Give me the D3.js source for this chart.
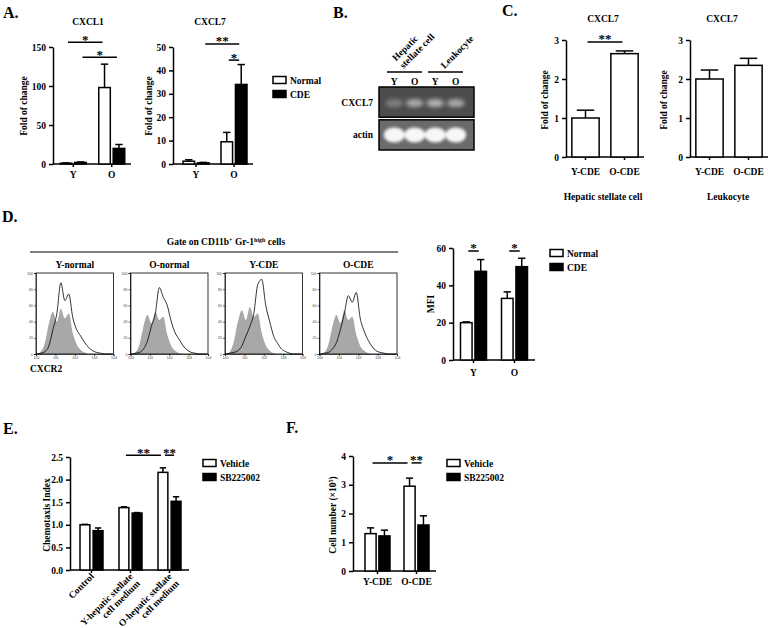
<!DOCTYPE html>
<meta charset="utf-8">
<style>
  body { margin: 0; background: #fff; }
  svg { font-family: "Liberation Serif", "Times New Roman", serif; font-weight: bold; }
  svg text { fill: #000; }
  .axis path, .axis line { stroke: #000; stroke-width: 1.5px; }
  .axis text { font-size: 9.5px; font-family: "Liberation Serif", serif; font-weight: bold; }
  .faxis path, .faxis line { stroke: #000; stroke-width: 0.6px; }
  .faxis text { font-size: 3.5px; fill: #444; font-weight: normal; }
</style>
<script src="https://d3js.org/d3.v7.min.js"></script>
<body>
<div id="fig"></div>
<script>

// ---- A. fold of change, young / old mice ----
var groupsYO = ["Y", "O"];
var seriesNC = ["Normal", "CDE"];
var cxcl1Normal = [1, 98], cxcl1NormalErr = [0.4, 30];
var cxcl1CDE = [2, 20], cxcl1CDEErr = [0.6, 5];
var cxcl7Normal = [1.2, 9.5], cxcl7NormalErr = [0.6, 4];
var cxcl7CDE = [0.5, 34], cxcl7CDEErr = [0.2, 8.5];
var ticksCxcl1 = [0, 50, 100, 150];
var ticksCxcl7 = [0, 10, 20, 30, 40, 50];

// ---- B. RT-PCR gel ----
var lanes = ["hsc-Y", "hsc-O", "leu-Y", "leu-O"];
var laneLabels = ["Y", "O", "Y", "O"];
var gelGroups = [["Hepatic", "stellate cell"], ["Leukocyte"]];
var gelRows = ["CXCL7", "actin"];
var cxcl7Band = [0.3, 0.55, 0.6, 0.55];
var actinBand = [1, 1, 1, 1];

// ---- C. CXCL7 in sorted cells ----
var groupsCDE = ["Y-CDE", "O-CDE"];
var hscCxcl7 = [1.0, 2.65], hscCxcl7Err = [0.2, 0.07];
var leuCxcl7 = [2.0, 2.35], leuCxcl7Err = [0.23, 0.18];
var ticksC = [0, 1, 2, 3];

// ---- D. CXCR2 flow histograms + MFI ----
var flowSamples = ["Y-normal", "O-normal", "Y-CDE", "O-CDE"];
var isotypeHist = [
  [0, 3, 14, 38, 52, 40, 56, 44, 50, 26, 12, 5, 2, 0, 0, 0, 0, 0, 0, 0],
  [0, 2, 12, 34, 48, 38, 52, 42, 46, 24, 10, 4, 1, 0, 0, 0, 0, 0, 0, 0],
  [0, 3, 16, 40, 54, 42, 58, 46, 50, 26, 11, 4, 1, 0, 0, 0, 0, 0, 0, 0],
  [0, 2, 12, 34, 48, 38, 54, 42, 46, 24, 10, 4, 1, 0, 0, 0, 0, 0, 0, 0]
];
var cxcr2Hist = [
  [0, 1, 3, 10, 30, 50, 88, 66, 74, 45, 30, 22, 14, 8, 4, 2, 1, 0, 0, 0],
  [0, 1, 2, 6, 16, 34, 50, 82, 70, 60, 40, 26, 18, 10, 5, 2, 1, 0, 0, 0],
  [0, 1, 2, 4, 10, 22, 34, 50, 86, 92, 60, 40, 22, 13, 6, 3, 1, 0, 0, 0],
  [0, 1, 2, 6, 14, 30, 50, 72, 64, 76, 44, 28, 17, 9, 4, 2, 1, 0, 0, 0]
];
var mfiNormal = [20, 33], mfiNormalErr = [0.4, 3.5];
var mfiCDE = [47.5, 50], mfiCDEErr = [6.3, 4.5];
var ticksMfi = [0, 20, 40, 60];

// ---- E. chemotaxis ----
var groupsE = ["Control", "Y-hepatic stellate cell medium", "O-hepatic stellate cell medium"];
var seriesVS = ["Vehicle", "SB225002"];
var chemoVehicle = [1.0, 1.38, 2.16], chemoVehicleErr = [0.01, 0.02, 0.1];
var chemoSB = [0.87, 1.26, 1.52], chemoSBErr = [0.06, 0.01, 0.1];
var ticksE = [0, 0.5, 1.0, 1.5, 2.0, 2.5];

// ---- F. cell number ----
var cellVehicle = [1.3, 2.95], cellVehicleErr = [0.2, 0.28];
var cellSB = [1.22, 1.6], cellSBErr = [0.2, 0.32];
var ticksF = [0, 1, 2, 3, 4];


var svg = d3.select("#fig").append("svg").attr("width", 768).attr("height", 628);
var defs = svg.append("defs");

function txt(x, y, s, size, anchor) {
  return svg.append("text").attr("x", x).attr("y", y)
    .attr("text-anchor", anchor || "middle").style("font-size", (size || 9.5) + "px").text(s);
}
function vtxt(x, y, s) {
  return svg.append("text").attr("transform", "translate(" + x + "," + y + ") rotate(-90)")
    .attr("text-anchor", "middle").style("font-size", "9.5px").text(s);
}

// grouped bar chart in the Prism style
function barPanel(o) {
  var g = svg.append("g");
  var y = d3.scaleLinear().domain([0, o.max]).range([o.bottom, o.top]);
  var x = d3.scaleBand().domain(o.groups).range(o.range)
    .paddingInner(o.padIn || 0).paddingOuter(o.padOut || 0);
  var w = o.inner || x.bandwidth();
  var xs = d3.scaleBand().domain(o.series)
    .range([(x.bandwidth() - w) / 2, (x.bandwidth() + w) / 2]).paddingInner(o.gap || 0);

  g.append("g").attr("class", "axis").attr("transform", "translate(" + o.axisX + ",0)")
    .call(d3.axisLeft(y).tickValues(o.ticks).tickSize(4).tickSizeOuter(0).tickPadding(3)
      .tickFormat(o.fmt || d3.format("d")));

  var xa = g.append("g").attr("class", "axis").attr("transform", "translate(0," + o.bottom + ")")
    .call(d3.axisBottom(x).tickSize(3).tickSizeOuter(0).tickPadding(o.xPad || 4));
  xa.select(".domain").attr("d", "M" + o.axisX + ",0H" + o.range[1]);

  o.values.forEach(function (vals, si) {
    var s = o.series[si];
    var cx = function (d, i) { return x(o.groups[i]) + xs(s) + xs.bandwidth() / 2; };
    g.append("g").selectAll("line").data(vals).join("line")
      .attr("x1", cx).attr("x2", cx)
      .attr("y1", function (d) { return y(d); })
      .attr("y2", function (d, i) { return y(d + o.errors[si][i]); })
      .attr("stroke", "#000").attr("stroke-width", 1.5);
    g.append("g").selectAll("line").data(vals).join("line")
      .attr("x1", function (d, i) { return cx(d, i) - xs.bandwidth() * 0.32; })
      .attr("x2", function (d, i) { return cx(d, i) + xs.bandwidth() * 0.32; })
      .attr("y1", function (d, i) { return y(d + o.errors[si][i]); })
      .attr("y2", function (d, i) { return y(d + o.errors[si][i]); })
      .attr("stroke", "#000").attr("stroke-width", 1.5);
    g.append("g").selectAll("rect").data(vals).join("rect")
      .attr("x", function (d, i) { return x(o.groups[i]) + xs(s); })
      .attr("y", function (d) { return y(d); })
      .attr("width", xs.bandwidth())
      .attr("height", function (d) { return y(0) - y(d); })
      .attr("fill", o.fills[si]).attr("stroke", "#000").attr("stroke-width", 1.5);
  });
  return { x: x, xs: xs, y: y, xa: xa };
}

// significance bar with stars
function sig(p, a, b, level, label) {
  var xa = p.x(a[0]) + p.xs(a[1]) + p.xs.bandwidth() / 2;
  var xb = p.x(b[0]) + p.xs(b[1]) + p.xs.bandwidth() / 2;
  var yy = p.y(level);
  svg.append("line").attr("x1", xa + 2).attr("x2", xb - 2).attr("y1", yy).attr("y2", yy)
    .attr("stroke", "#000").attr("stroke-width", 1.5);
  txt((xa + xb) / 2, yy + 1.5, label, 13);
}

function legend(x, y, names, fills) {
  names.forEach(function (n, i) {
    svg.append("rect").attr("x", x).attr("y", y + i * 14 - 3.5).attr("width", 13).attr("height", 7)
      .attr("fill", fills[i]).attr("stroke", "#000").attr("stroke-width", 1.5);
    txt(x + 17, y + i * 14 + 3.5, n, 9.5, "start");
  });
}

var nc = ["#fff", "#000"];

// ===== A =====
txt(3, 18, "A.", 16, "start");
txt(88, 25, "CXCL1");
var pA1 = barPanel({ groups: groupsYO, series: seriesNC, values: [cxcl1Normal, cxcl1CDE],
  errors: [cxcl1NormalErr, cxcl1CDEErr], fills: nc, max: 150, ticks: ticksCxcl1,
  axisX: 53, range: [54, 131], bottom: 164, top: 47, inner: 26, gap: 0.2 });
sig(pA1, ["Y", "Normal"], ["O", "Normal"], 156, "*");
sig(pA1, ["Y", "CDE"], ["O", "CDE"], 137, "*");
vtxt(27, 106, "Fold of change");

txt(210, 25, "CXCL7");
var pA2 = barPanel({ groups: groupsYO, series: seriesNC, values: [cxcl7Normal, cxcl7CDE],
  errors: [cxcl7NormalErr, cxcl7CDEErr], fills: nc, max: 50, ticks: ticksCxcl7,
  axisX: 173, range: [177, 253], bottom: 164, top: 47, inner: 26, gap: 0.2 });
sig(pA2, ["Y", "CDE"], ["O", "CDE"], 51.3, "**");
sig(pA2, ["O", "Normal"], ["O", "CDE"], 44.4, "*");
vtxt(152, 106, "Fold of change");
legend(273, 80, seriesNC, nc);

// ===== B =====
txt(333, 18, "B.", 16, "start");
var laneX = d3.scaleBand().domain(lanes).range([384, 466]);
var gelY = d3.scaleBand().domain(gelRows).range([87, 150]).paddingInner(0.08);
var glow = d3.scaleLinear().domain([0, 1]).range([0, 0.95]);
var bandData = [cxcl7Band, actinBand];

gelGroups.forEach(function (lines, gi) {
  var first = laneX(lanes[gi * 2]), last = laneX(lanes[gi * 2 + 1]) + laneX.bandwidth();
  var c = (first + last) / 2;
  svg.append("line").attr("x1", first + 3).attr("x2", last - 3).attr("y1", 72).attr("y2", 72)
    .attr("stroke", "#000").attr("stroke-width", 1.5);
  lines.forEach(function (s, li) {
    var off = (lines.length - 1 - li) * 7.4;
    svg.append("text").attr("transform", "translate(" + (c - 1 - off) + "," + (69 - off) + ") rotate(-45)")
      .style("font-size", "9.5px").text(s);
  });
});
svg.append("g").selectAll("text").data(laneLabels).join("text")
  .attr("x", function (d, i) { return laneX(lanes[i]) + laneX.bandwidth() / 2; })
  .attr("y", 85).attr("text-anchor", "middle").style("font-size", "9.5px").text(function (d) { return d; });

gelRows.forEach(function (row, r) {
  var y0 = gelY(row), h = gelY.bandwidth();
  defs.append("clipPath").attr("id", "gelclip" + r).append("rect")
    .attr("x", 379).attr("y", y0).attr("width", 95).attr("height", h);
  defs.append("filter").attr("id", "blur" + r).attr("x", "-50%").attr("y", "-50%")
    .attr("width", "200%").attr("height", "200%")
    .append("feGaussianBlur").attr("stdDeviation", r ? 1.6 : 2.2);
  svg.append("rect").attr("x", 379).attr("y", y0).attr("width", 95).attr("height", h)
    .attr("fill", r ? "#6a6a6a" : "#4c4c4c");
  svg.append("g").attr("clip-path", "url(#gelclip" + r + ")")
    .append("g").attr("filter", "url(#blur" + r + ")")
    .selectAll("ellipse").data(bandData[r]).join("ellipse")
    .attr("cx", function (d, i) { return laneX(lanes[i]) + laneX.bandwidth() / 2; })
    .attr("cy", y0 + h / 2 + (r ? 0 : 1))
    .attr("rx", r ? 10.5 : 9).attr("ry", r ? 7.5 : 4)
    .attr("fill", "#fff").attr("opacity", function (d) { return glow(d); });
  svg.append("rect").attr("x", 379).attr("y", y0).attr("width", 95).attr("height", h)
    .attr("fill", "none").attr("stroke", "#000").attr("stroke-width", 1.5);
  txt(373, y0 + h / 2 + 3.5, row, 9.5, "end");
});

// ===== C =====
txt(502, 16, "C.", 16, "start");
txt(603, 22, "CXCL7");
var pC1 = barPanel({ groups: groupsCDE, series: ["CDE"], values: [hscCxcl7], errors: [hscCxcl7Err],
  fills: ["#fff"], max: 3, ticks: ticksC, axisX: 566, range: [566, 644], padIn: 0.3, padOut: 0.15,
  bottom: 157, top: 40, xPad: 8 });
sig(pC1, ["Y-CDE", "CDE"], ["O-CDE", "CDE"], 2.95, "**");
vtxt(548, 100, "Fold of change");
txt(603, 200, "Hepatic stellate cell");

txt(722, 22, "CXCL7");
var pC2 = barPanel({ groups: groupsCDE, series: ["CDE"], values: [leuCxcl7], errors: [leuCxcl7Err],
  fills: ["#fff"], max: 3, ticks: ticksC, axisX: 690, range: [690, 768], padIn: 0.3, padOut: 0.15,
  bottom: 157, top: 40, xPad: 8 });
vtxt(667, 100, "Fold of change");
txt(728, 200, "Leukocyte");

// ===== D =====
txt(2, 222, "D.", 16, "start");
var gate = svg.append("text").attr("x", 226).attr("y", 245).attr("text-anchor", "middle").style("font-size", "9.5px");
gate.append("tspan").text("Gate on CD11b");
gate.append("tspan").attr("dy", -3.5).style("font-size", "6px").text("+");
gate.append("tspan").attr("dy", 3.5).text(" Gr-1");
gate.append("tspan").attr("dy", -3.5).style("font-size", "6px").text("high");
gate.append("tspan").attr("dy", 3.5).text(" cells");
svg.append("line").attr("x1", 30).attr("x2", 398).attr("y1", 252).attr("y2", 252)
  .attr("stroke", "#000").attr("stroke-width", 1.2);

var flowX = d3.scaleBand().domain(flowSamples).range([36, 397]).paddingInner(0.18);
var countY = d3.scaleLinear().domain([0, 100]).range([354, 273]);
flowSamples.forEach(function (name, i) {
  var x0 = flowX(name), bw = flowX.bandwidth();
  var binX = d3.scaleLinear().domain([0, isotypeHist[i].length - 1]).range([x0 + 1, x0 + bw - 1]);
  var area = d3.area().x(function (d, j) { return binX(j); }).y0(countY(0))
    .y1(function (d) { return countY(d); }).curve(d3.curveMonotoneX);
  var line = d3.line().x(function (d, j) { return binX(j); })
    .y(function (d) { return countY(d); }).curve(d3.curveMonotoneX);
  svg.append("path").datum(isotypeHist[i]).attr("d", area).attr("fill", "#a8a8a8");
  svg.append("path").datum(cxcr2Hist[i]).attr("d", line).attr("fill", "none")
    .attr("stroke", "#000").attr("stroke-width", 0.8);
  svg.append("rect").attr("x", x0).attr("y", countY(100)).attr("width", bw)
    .attr("height", countY(0) - countY(100)).attr("fill", "none").attr("stroke", "#000").attr("stroke-width", 0.8);
  svg.append("g").attr("class", "faxis").attr("transform", "translate(" + x0 + ",0)")
    .call(d3.axisLeft(countY).ticks(5).tickSize(2).tickPadding(1));
  var logX = d3.scaleLinear().domain([0, 4]).range([x0, x0 + bw]);
  svg.append("g").attr("class", "faxis").attr("transform", "translate(0," + countY(0) + ")")
    .call(d3.axisBottom(logX).ticks(4).tickSize(2).tickPadding(1).tickFormat(function (d) { return "10" + d; }));
  txt(x0 + bw / 2, 268, name);
});
txt(30, 372, "CXCR2", 9.5, "start");

var pD = barPanel({ groups: groupsYO, series: seriesNC, values: [mfiNormal, mfiCDE],
  errors: [mfiNormalErr, mfiCDEErr], fills: nc, max: 60, ticks: ticksMfi,
  axisX: 453, range: [453, 535], bottom: 360, top: 248, inner: 26, gap: 0.2, xPad: 6 });
sig(pD, ["Y", "Normal"], ["Y", "CDE"], 58.4, "*");
sig(pD, ["O", "Normal"], ["O", "CDE"], 58.4, "*");
vtxt(434, 304, "MFI");
legend(550, 253, seriesNC, nc);

// ===== E =====
txt(3, 434, "E.", 16, "start");
var pE = barPanel({ groups: groupsE, series: seriesVS, values: [chemoVehicle, chemoSB],
  errors: [chemoVehicleErr, chemoSBErr], fills: nc, max: 2.5, ticks: ticksE, fmt: d3.format(".1f"),
  axisX: 70, range: [72, 189], bottom: 570, top: 457, inner: 23, gap: 0.25 });
pE.xa.selectAll(".tick text").remove();
pE.xa.selectAll(".tick").append("text")
  .attr("transform", "translate(3,7) rotate(-45)")
  .attr("text-anchor", "end").style("font-size", "9.5px")
  .each(function (d) {
    var lines = d.replace(" cell medium", "|cell medium").split("|");
    var t = d3.select(this);
    lines.forEach(function (s, k) {
      t.append("tspan").attr("x", 0).attr("dy", k ? "1.05em" : 0).text(s);
    });
  });
sig(pE, [groupsE[1], "Vehicle"], [groupsE[2], "Vehicle"], 2.54, "**");
sig(pE, [groupsE[2], "Vehicle"], [groupsE[2], "SB225002"], 2.54, "**");
vtxt(50, 515, "Chemotaxis Index");
legend(203, 463, seriesVS, nc);

// ===== F =====
txt(286, 433, "F.", 16, "start");
var pF = barPanel({ groups: groupsCDE, series: seriesVS, values: [cellVehicle, cellSB],
  errors: [cellVehicleErr, cellSBErr], fills: nc, max: 4, ticks: ticksF,
  axisX: 353, range: [358, 436], bottom: 571, top: 456, inner: 25, gap: 0.2 });
sig(pF, ["Y-CDE", "Vehicle"], ["O-CDE", "Vehicle"], 3.76, "*");
sig(pF, ["O-CDE", "Vehicle"], ["O-CDE", "SB225002"], 3.76, "**");
var cl = svg.append("text").attr("transform", "translate(336,515) rotate(-90)")
  .attr("text-anchor", "middle").style("font-size", "9.5px");
cl.append("tspan").text("Cell number (\u00d710");
cl.append("tspan").attr("dy", -3.5).style("font-size", "6px").text("5");
cl.append("tspan").attr("dy", 3.5).text(")");
legend(447, 463, seriesVS, nc);

</script>
